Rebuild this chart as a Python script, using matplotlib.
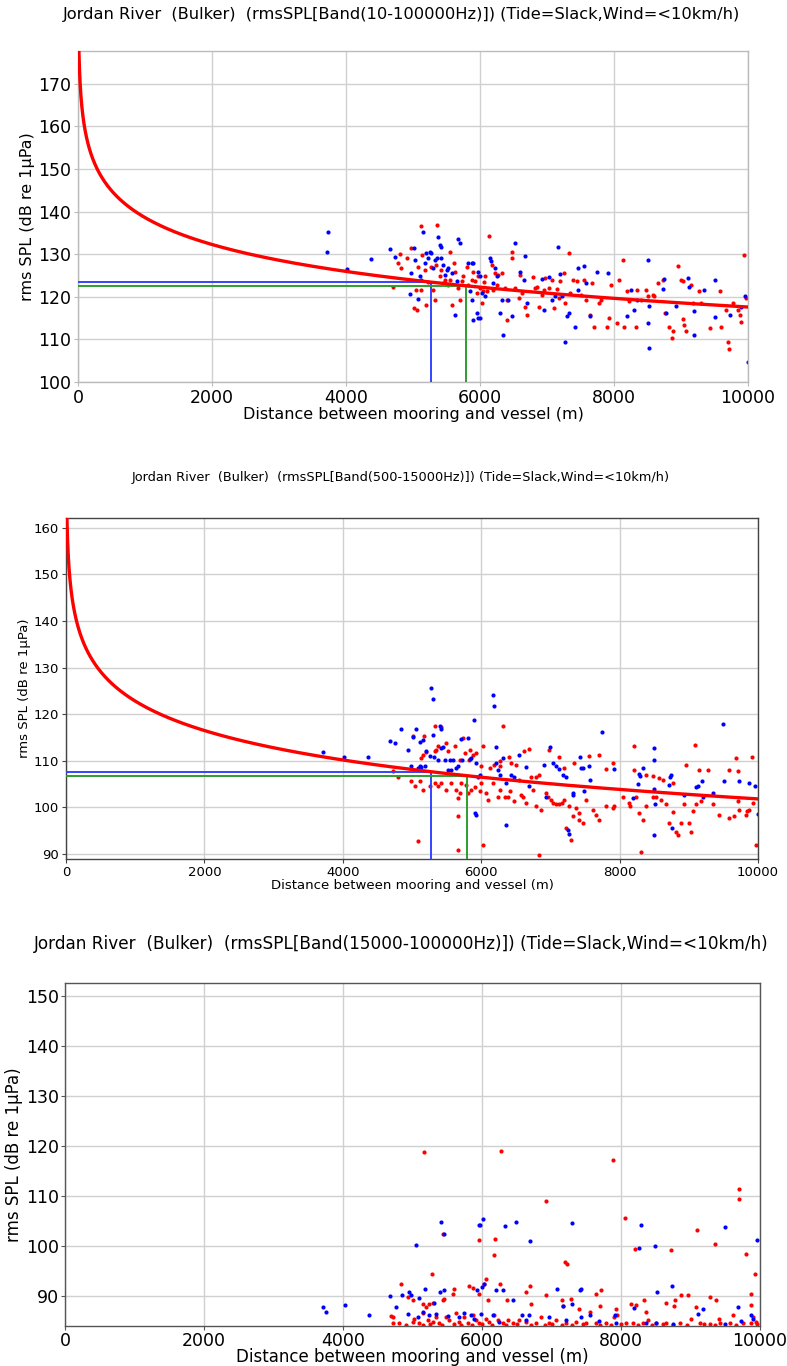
import numpy as np
import matplotlib
matplotlib.use("Agg")
import matplotlib.pyplot as plt

# ---------------------------------------------------------------------------
# Received levels per vessel pass (distance m, rms SPL dB re 1uPa)
# red = one transit direction, blue = the other
# ---------------------------------------------------------------------------
p1_blue = [
    (3712, 130.6), (3736, 135.2), (4020, 126.6), (4373, 128.8),
    (4650, 131.2), (4725, 129.3), (4975, 125.7), (5015, 131.4), (5025, 128.7), (4950, 120.6),
    (5075, 119.4), (5100, 124.8), (5125, 124.0), (5150, 135.3), (5175, 127.9), (5200, 130.2),
    (5225, 129.1), (5250, 130.6), (5275, 130.2), (5300, 126.7), (5325, 128.7), (5365, 129.1),
    (5375, 134.1), (5400, 132.2), (5425, 131.8), (5415, 129.1), (5450, 127.5), (5475, 125.2),
    (5500, 126.3), (5525, 126.7), (5575, 125.7), (5650, 123.6), (5675, 133.5), (5700, 132.6),
    (5625, 115.8), (5825, 128.0), (5875, 127.9), (5900, 127.9), (5975, 125.9), (6000, 124.8),
    (5850, 121.3), (5875, 119.3), (5900, 114.6), (5950, 116.2), (5975, 115.0), (6000, 115.0),
    (6025, 120.9), (6075, 120.1), (6150, 129.1), (6165, 128.5), (6200, 123.2), (6225, 126.7),
    (6250, 124.8), (6325, 119.3), (6350, 111.1), (6300, 116.2), (6415, 119.3), (6475, 115.4),
    (6525, 132.7), (6600, 125.9), (6650, 124.0), (6665, 129.6), (6700, 118.5), (6925, 124.1),
    (6950, 117.0), (7025, 124.6), (7075, 119.3), (7125, 120.1), (7160, 131.6), (7200, 125.4),
    (7225, 120.1), (7265, 109.3), (7300, 115.4), (7325, 116.2), (7425, 113.0), (7460, 121.6),
    (7465, 126.7), (7550, 127.3), (7575, 123.2), (7645, 115.4), (7750, 125.9), (7915, 125.5),
    (8200, 115.4), (8250, 121.6), (8300, 117.0), (8350, 119.3), (8500, 128.7), (8515, 117.9),
    (8500, 113.8), (8525, 108.0), (8725, 121.8), (8750, 124.1), (8775, 116.2), (8925, 117.9),
    (9100, 124.4), (9125, 122.3), (9200, 116.6), (9200, 111.1), (9350, 121.6), (9500, 124.0),
    (9500, 115.2), (9725, 115.8), (9900, 117.7), (9950, 120.1), (9995, 104.6),
]
p1_red = [
    (4700, 122.3), (5115, 136.7), (5355, 136.9), (4800, 130.0), (4775, 128.0), (4825, 126.7),
    (4915, 129.2), (4975, 131.4), (5015, 117.3), (5065, 117.0), (5050, 121.6), (5075, 127.1),
    (5115, 121.6), (5140, 129.8), (5175, 126.3), (5200, 118.1), (5225, 123.4), (5275, 127.1),
    (5300, 121.6), (5325, 119.3), (5350, 127.5), (5400, 124.8), (5425, 126.3), (5450, 123.2),
    (5475, 124.0), (5515, 122.8), (5550, 130.6), (5550, 124.0), (5575, 118.1), (5615, 127.9),
    (5625, 125.9), (5665, 122.0), (5700, 119.3), (5725, 123.6), (5750, 124.8), (5800, 127.1),
    (5825, 122.8), (5875, 124.0), (5900, 125.9), (5925, 123.8), (5950, 120.9), (5975, 124.8),
    (6000, 122.0), (6025, 118.5), (6050, 121.3), (6065, 123.4), (6075, 124.8), (6100, 121.3),
    (6140, 134.3), (6175, 127.5), (6200, 121.6), (6225, 125.5), (6250, 122.8), (6275, 125.2),
    (6335, 125.5), (6375, 122.0), (6400, 119.3), (6410, 114.6), (6475, 130.6), (6485, 129.1),
    (6525, 122.0), (6575, 119.7), (6600, 125.2), (6625, 120.9), (6675, 117.7), (6700, 115.8),
    (6790, 124.6), (6825, 122.0), (6850, 122.4), (6875, 117.7), (6925, 120.5), (6950, 121.6),
    (6975, 124.4), (7025, 122.0), (7075, 124.0), (7100, 117.3), (7150, 121.8), (7175, 119.7),
    (7200, 123.6), (7250, 125.5), (7275, 118.5), (7325, 130.2), (7350, 120.9), (7390, 124.0),
    (7450, 123.6), (7500, 120.5), (7550, 124.0), (7575, 119.3), (7635, 115.8), (7675, 123.2),
    (7700, 112.8), (7775, 118.5), (7800, 119.3), (7900, 112.9), (7925, 115.0), (7950, 122.8),
    (8050, 113.8), (8075, 124.0), (8135, 128.7), (8150, 113.0), (8200, 121.3), (8225, 118.9),
    (8325, 112.8), (8350, 121.6), (8400, 119.3), (8475, 121.6), (8500, 120.1), (8575, 120.5),
    (8600, 120.1), (8650, 123.2), (8735, 124.0), (8765, 116.2), (8825, 113.0), (8865, 110.3),
    (8875, 111.9), (8950, 127.3), (9000, 124.0), (9025, 123.6), (9025, 114.8), (9050, 113.4),
    (9075, 111.9), (9150, 122.8), (9175, 118.5), (9275, 121.3), (9300, 118.5), (9440, 112.7),
    (9575, 121.3), (9600, 113.0), (9675, 117.0), (9700, 109.5), (9715, 107.7), (9775, 118.5),
    (9850, 117.0), (9875, 115.8), (9890, 114.0), (9935, 129.8), (9975, 119.7),
]

p2_blue = [
    (3716, 111.8), (4019, 110.7), (4366, 110.7),
    (5279, 125.5), (5303, 123.2), (4846, 116.8), (5052, 116.8), (4677, 114.3), (4749, 113.8),
    (5110, 114.1), (5158, 114.5), (5014, 115.1), (4942, 112.4), (4980, 108.8), (5086, 108.4),
    (5110, 108.8), (5134, 108.6), (5182, 108.8), (5206, 112.0), (5255, 111.1), (5303, 115.6),
    (5312, 110.9), (5375, 110.2), (5399, 117.5), (5413, 116.8), (5423, 112.7), (5447, 112.9),
    (5471, 110.2), (5519, 108.1), (5543, 110.2), (5567, 108.1), (5591, 110.2), (5639, 108.4),
    (5663, 108.8), (5711, 114.6), (5726, 110.2), (5808, 114.9), (5832, 110.4), (5856, 110.6),
    (5894, 118.7), (5928, 109.5), (5952, 106.6), (5904, 98.8), (5928, 98.4), (5976, 107.0),
    (6168, 124.0), (6192, 121.7), (6207, 113.0), (6217, 109.6), (6241, 108.1), (6265, 107.0),
    (6313, 110.6), (6361, 96.3), (6361, 105.2), (6433, 107.0), (6481, 106.6), (6553, 111.3),
    (6649, 108.6), (6688, 104.5), (6914, 109.1), (6938, 102.3), (6996, 112.9), (7034, 109.5),
    (7082, 108.8), (7130, 108.2), (7179, 107.0), (7227, 106.6), (7251, 95.2), (7275, 94.3),
    (7323, 103.1), (7332, 102.7), (7433, 110.7), (7443, 108.4), (7467, 108.4), (7491, 103.4),
    (7563, 108.9), (7573, 105.9), (7746, 116.2), (7924, 108.3), (8189, 102.0), (8261, 105.1),
    (8285, 107.2), (8295, 106.8), (8343, 108.4), (8501, 112.7), (8501, 110.2), (8492, 103.9),
    (8516, 100.8), (8501, 94.1), (8718, 104.8), (8727, 106.6), (8742, 107.0), (8756, 95.6),
    (8934, 102.6), (9103, 104.3), (9136, 104.5), (9189, 105.6), (9199, 102.3), (9343, 103.0),
    (9487, 117.9), (9511, 105.6), (9728, 105.7), (9863, 105.2), (9959, 104.5), (9993, 98.6),
]
p2_red = [
    (4727, 107.7), (4799, 106.4),
    (5327, 117.4), (5423, 117.2), (5014, 115.2), (5173, 115.4), (5134, 110.6), (5158, 111.3),
    (5197, 111.8), (5327, 112.0), (5351, 112.4), (5375, 113.1), (5495, 113.8), (5615, 113.1),
    (5519, 112.0), (5687, 110.2), (5736, 114.9), (5760, 111.6), (5822, 110.2), (5841, 112.4),
    (5880, 111.3), (5928, 111.6), (6024, 113.1), (6000, 108.8), (6120, 108.4), (6192, 109.1),
    (6265, 108.9), (6274, 109.9), (6322, 117.5), (6399, 110.9), (6433, 109.5), (6505, 109.1),
    (6553, 105.9), (6625, 112.0), (6688, 112.5), (6722, 106.6), (6794, 106.6), (6842, 107.0),
    (6986, 112.4), (7130, 110.9), (7203, 108.4), (7347, 109.6), (7563, 111.1), (7708, 111.3),
    (7804, 108.2), (7900, 109.5), (8213, 113.1), (8213, 107.9), (8381, 107.0), (8477, 106.8),
    (8573, 106.3), (8622, 105.9), (8766, 105.2), (8958, 109.1), (9093, 113.4), (9151, 108.1),
    (9271, 108.1), (9584, 108.1), (9689, 110.6), (9718, 107.7), (9920, 110.8),
    (4990, 105.6), (5038, 104.5), (5110, 105.6), (5158, 103.8), (5255, 104.5), (5327, 105.2),
    (5375, 104.5), (5423, 105.2), (5495, 103.8), (5567, 105.2), (5639, 103.8), (5711, 105.2),
    (5774, 104.8), (5808, 103.1), (5856, 103.8), (5904, 104.4), (5976, 103.4), (6000, 105.2),
    (6072, 103.1), (6096, 101.6), (6168, 105.2), (6241, 102.3), (6265, 103.8), (6337, 102.3),
    (6385, 102.3), (6409, 103.4), (6481, 101.3), (6577, 102.7), (6601, 102.3), (6649, 100.9),
    (6746, 103.8), (6794, 100.2), (6866, 99.5), (6938, 103.1), (6962, 102.3), (7010, 101.6),
    (7034, 100.9), (7082, 100.6), (7130, 100.6), (7169, 100.9), (7203, 101.6), (7227, 95.6),
    (7275, 100.2), (7299, 93.0), (7323, 98.1), (7371, 99.8), (7419, 98.8), (7419, 97.3),
    (7467, 96.6), (7515, 101.6), (7611, 99.5), (7660, 98.4), (7708, 97.3), (7804, 100.2),
    (7900, 99.8), (7924, 100.2), (8044, 102.3), (8141, 100.9), (8150, 100.2), (8237, 102.3),
    (8285, 98.8), (8333, 97.3), (8381, 100.2), (8477, 102.3), (8525, 102.3), (8597, 101.6),
    (8670, 100.6), (8718, 96.6), (8775, 98.9), (8814, 94.8), (8838, 94.1), (8886, 96.6),
    (8934, 100.6), (9006, 96.6), (9030, 94.8), (9055, 99.1), (9103, 100.6), (9175, 101.3),
    (9343, 100.6), (9439, 98.4), (9584, 97.7), (9656, 98.1), (9704, 101.3), (9728, 99.5),
    (9824, 98.4), (9848, 99.1), (9872, 99.5), (9930, 100.9), (9969, 92.0),
    (5086, 92.7), (5663, 90.9), (6024, 91.8), (6842, 89.8), (8309, 90.3), (5663, 98.1),
    (5687, 103.1), (5663, 102.0),
]

p3_blue = [
    (3717, 87.9), (3756, 86.9), (4029, 88.3), (4374, 86.2), (4676, 90.0), (4758, 87.9),
    (5410, 104.9), (5448, 102.5), (5952, 104.3), (5976, 104.3), (6010, 105.5), (6336, 104.0),
    (6490, 104.8), (6692, 101.1), (7292, 104.7), (8290, 104.3), (8266, 99.7), (8496, 100.1),
    (9500, 103.8), (9956, 101.3), (5050, 100.2), (4848, 90.3), (4954, 90.9), (4978, 90.2),
    (5098, 89.7), (5184, 91.5), (5314, 88.7), (5396, 90.8), (5458, 91.3), (5746, 86.7),
    (5928, 91.3), (6000, 91.9), (6034, 92.5), (6202, 91.3), (6298, 91.3), (6442, 89.3),
    (6572, 86.2), (6672, 86.2), (7076, 91.5), (7162, 88.1), (7296, 88.5), (7416, 91.2),
    (7426, 91.5), (7560, 86.2), (7920, 86.2), (8180, 87.7), (8516, 90.9), (8736, 92.0),
    (9178, 87.5), (9106, 86.5), (9682, 87.9), (9874, 86.2), (9898, 85.5), (9730, 85.0),
    (9490, 84.5), (8746, 84.5), (4930, 86.4), (5074, 85.9), (5146, 86.9), (5242, 86.2),
    (5338, 86.5), (5506, 86.0), (5674, 85.9), (5842, 86.2), (5890, 85.5), (5986, 86.5),
    (6154, 86.3), (6250, 84.9), (6634, 85.2), (6970, 85.9), (7210, 85.2), (7426, 85.9),
    (7690, 85.1), (7930, 84.7), (8362, 84.7), (8506, 84.7),
]
p3_red = [
    (4724, 85.9), (5160, 118.9), (6274, 119.1), (7882, 117.2), (6922, 109.1), (9692, 111.4),
    (9692, 109.5), (5434, 102.5), (5962, 101.2), (6192, 101.5), (6178, 98.3), (7200, 96.9),
    (7220, 96.4), (8060, 105.7), (9092, 103.2), (8722, 99.3), (8204, 99.4), (9356, 100.5),
    (9802, 98.4), (9932, 94.5), (9874, 90.5), (5276, 94.5), (4834, 92.5), (4690, 86.0),
    (5002, 89.2), (4935, 89.9), (5146, 88.5), (5194, 87.9), (5242, 88.5), (5290, 88.7),
    (5434, 89.2), (5458, 89.5), (5602, 91.5), (5578, 90.5), (5808, 92.0), (5866, 91.7),
    (5962, 90.5), (6034, 92.4), (6058, 93.5), (6082, 89.2), (6264, 92.5), (6356, 89.2),
    (6634, 90.9), (6692, 92.0), (6706, 88.5), (6922, 90.2), (7152, 89.2), (7172, 88.0),
    (7282, 89.5), (7402, 87.5), (7556, 86.9), (7642, 90.5), (7700, 88.1), (7714, 91.2),
    (7930, 87.5), (7944, 86.2), (8146, 88.5), (8218, 88.2), (8338, 89.2), (8362, 86.9),
    (8650, 88.7), (8760, 88.0), (8784, 89.3), (8866, 90.2), (8962, 90.3), (9082, 87.9),
    (9274, 89.9), (9370, 89.3), (9408, 85.5), (9610, 86.3), (9874, 88.2), (9898, 85.9),
    (4714, 84.7), (4810, 84.7), (5002, 84.9), (5026, 85.5), (5098, 84.7), (5146, 86.7),
    (5218, 85.2), (5290, 84.9), (5338, 85.9), (5386, 84.7), (5482, 85.9), (5530, 85.2),
    (5626, 86.7), (5674, 84.9), (5746, 85.9), (5794, 84.7), (5866, 86.2), (5914, 85.2),
    (5962, 84.7), (6058, 85.5), (6106, 84.9), (6178, 86.2), (6226, 85.3), (6298, 84.7),
    (6370, 85.2), (6442, 84.7), (6538, 85.3), (6634, 84.9), (6778, 84.7), (6850, 85.9),
    (6970, 84.7), (7066, 85.2), (7210, 84.7), (7354, 84.9), (7498, 84.7), (7642, 84.7),
    (7786, 84.7), (7906, 85.9), (8074, 84.7), (8170, 84.7), (8314, 84.7), (8386, 85.2),
    (8506, 84.7), (8650, 84.7), (8842, 84.7), (9010, 85.5), (9130, 84.7), (9274, 84.5),
    (9418, 84.7), (9562, 84.7), (9754, 84.7), (9874, 84.7), (9946, 84.9),
    (4900, 84.3), (5150, 84.3), (5250, 84.4), (5430, 84.3), (5600, 84.4), (5700, 84.3),
    (5850, 84.3), (6000, 84.4), (6150, 84.3), (6350, 84.3), (6500, 84.4), (6700, 84.3),
    (6900, 84.3), (7000, 84.4), (7150, 84.3), (7300, 84.3), (7450, 84.4), (7700, 84.3),
    (7850, 84.3), (8000, 84.4), (8250, 84.3), (8450, 84.3), (8600, 84.4), (8750, 84.3),
    (8950, 84.3), (9200, 84.4), (9350, 84.3), (9650, 84.3), (9950, 84.4),
]

# Fitted propagation model per band: SPL = source_level - tl_coeff * log10(r)
fit_source_level = [201.6, 185.8]
fit_tl_coeff = [21.0, 21.0]
guide_dist = [5270, 5790]
guide_colors = ["#3344ff", "#2e9e2e"]

titles = [
    "Jordan River  (Bulker)  (rmsSPL[Band(10-100000Hz)]) (Tide=Slack,Wind=<10km/h)",
    "Jordan River  (Bulker)  (rmsSPL[Band(500-15000Hz)]) (Tide=Slack,Wind=<10km/h)",
    "Jordan River  (Bulker)  (rmsSPL[Band(15000-100000Hz)]) (Tide=Slack,Wind=<10km/h)",
]
xlabel = "Distance between mooring and vessel (m)"
ylabel = "rms SPL (dB re 1\u03bcPa)"
xticks = [0, 2000, 4000, 6000, 8000, 10000]
yticks = [
    [100, 110, 120, 130, 140, 150, 160, 170],
    [90, 100, 110, 120, 130, 140, 150, 160],
    [90, 100, 110, 120, 130, 140, 150],
]
ylims = [(100, 177.7), (88.9, 162.1), (84, 152.6)]

W, H = 787, 1366
fig = plt.figure(figsize=(W / 100, H / 100), dpi=100)
fig.patch.set_facecolor("white")

# axes boxes in pixels: left, right, top, bottom
boxes = [(78, 748, 51, 382), (66, 758, 518, 859), (65, 760, 983, 1326)]
tick_fs = [12.5, 9.5, 12.5]
title_fs = [11.7, 9.3, 12.2]
title_y = [14, 478, 944]
title_x = 401
label_fs = [11.5, 9.5, 12.0]
label_pad = [0, 0, -1.5]
spine_col = ["#bbbbbb", "#444444", "#555555"]

panels = [(p1_red, p1_blue), (p2_red, p2_blue), (p3_red, p3_blue)]

for i, (box, (red, blue)) in enumerate(zip(boxes, panels)):
    l, r, t, b = box
    ax = fig.add_axes([l / W, 1 - b / H, (r - l) / W, (b - t) / H])
    ax.set_xlim(0, 10000)
    ax.set_ylim(*ylims[i])
    ax.set_xticks(xticks)
    ax.set_yticks(yticks[i])
    ax.grid(True, color="#d0d0d0", linewidth=1.0)
    ax.set_axisbelow(True)
    for sp in ax.spines.values():
        sp.set_color(spine_col[i])
        sp.set_linewidth(1.0)
    ax.tick_params(labelsize=tick_fs[i], length=3, color=spine_col[i],
                   pad=1.5 if i == 2 else 2)

    rx, ry = zip(*red)
    bx, by = zip(*blue)
    ax.plot(rx, ry, "o", color="red", ms=3.0, mec="none")
    ax.plot(bx, by, "o", color="blue", ms=3.0, mec="none")

    if i < 2:
        sl, k = fit_source_level[i], fit_tl_coeff[i]
        rr = np.geomspace(1, 10000, 800)
        ax.plot(rr, sl - k * np.log10(rr), color="red", lw=2.4, zorder=5)
        y0 = ylims[i][0]
        for d, c in zip(guide_dist, guide_colors):
            yv = sl - k * np.log10(d)
            ax.plot([0, d], [yv, yv], color=c, lw=1.4, zorder=4)
            ax.plot([d, d], [y0, yv], color=c, lw=1.4, zorder=4)

    ax.set_xlabel(xlabel, fontsize=label_fs[i], labelpad=label_pad[i])
    ax.set_ylabel(ylabel, fontsize=label_fs[i], labelpad=2)
    fig.text(title_x / W, 1 - title_y[i] / H, titles[i],
             ha="center", va="center", fontsize=title_fs[i])

fig.savefig("out.png", dpi=100, facecolor="white")
